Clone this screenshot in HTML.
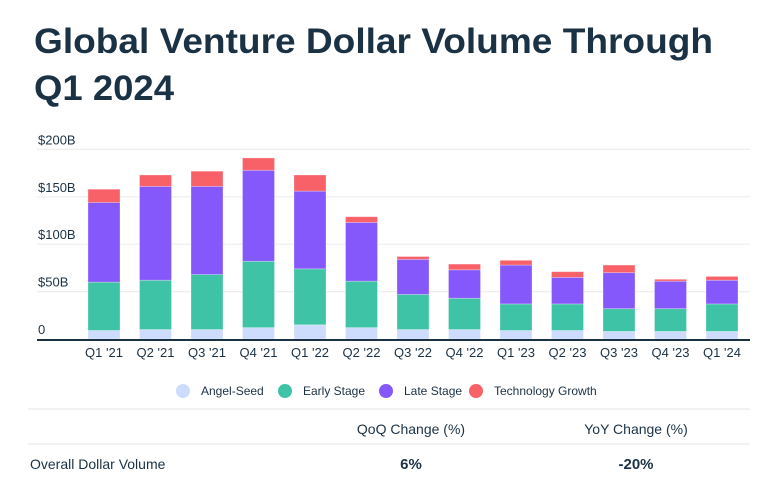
<!DOCTYPE html>
<html><head><meta charset="utf-8"><style>
html,body{margin:0;padding:0;background:#fff;}
svg{display:block;font-family:"Liberation Sans",sans-serif;}
</style></head><body>
<svg id="chart" width="762" height="479" viewBox="0 0 762 479" xmlns="http://www.w3.org/2000/svg">
<text x="34" y="53" font-size="35" font-weight="bold" fill="#1b3245" textLength="679" lengthAdjust="spacingAndGlyphs">Global Venture Dollar Volume Through</text>
<text x="34" y="100" font-size="35" font-weight="bold" fill="#1b3245" textLength="140" lengthAdjust="spacingAndGlyphs">Q1 2024</text>
<g id="grid"></g>
<g id="bars"></g>
<g id="xlabels"></g>
<g id="legend"></g>
<line x1="28" y1="409" x2="750" y2="409" stroke="#eee" stroke-width="1.5"/>
<text x="411" y="434" font-size="14" fill="#1b3245" text-anchor="middle">QoQ Change (%)</text>
<text x="636" y="434" font-size="14" fill="#1b3245" text-anchor="middle">YoY Change (%)</text>
<line x1="28" y1="444" x2="750" y2="444" stroke="#eee" stroke-width="1.5"/>
<text x="30" y="469" font-size="14" fill="#1b3245">Overall Dollar Volume</text>
<text x="411" y="469" font-size="15" font-weight="bold" fill="#1b3245" text-anchor="middle">6%</text>
<text x="636" y="469" font-size="15" font-weight="bold" fill="#1b3245" text-anchor="middle">-20%</text>
</svg>
<script>
const categories=["Q1 '21","Q2 '21","Q3 '21","Q4 '21","Q1 '22","Q2 '22","Q3 '22","Q4 '22","Q1 '23","Q2 '23","Q3 '23","Q4 '23","Q1 '24"];
const angelSeed=[9,10,10,12,15,12,10,10,9,9,8,8,8];
const earlyStage=[51,52,58,70,59,49,37,33,28,28,24,24,29];
const lateStage=[84,99,93,96,82,62,37,30,41,28,38,29,25];
const techGrowth=[14,12,16,13,17,6,3,6,5,6,8,2,4];
const yTicks=[0,50,100,150,200];
const yTickLabels=["0","$50B","$100B","$150B","$200B"];
const seriesNames=["Angel-Seed","Early Stage","Late Stage","Technology Growth"];
const NS="http://www.w3.org/2000/svg";
const colors=["#cddcfd","#3ec3a6","#8558fb","#f86168"];
const y0=339, pxPer=0.948;
function yS(v){return y0-v*pxPer;}
function xS(i){return 88+i*51.5;}
const bw=32;
function mk(tag,attrs,parent){const e=document.createElementNS(NS,tag);for(const k in attrs)e.setAttribute(k,attrs[k]);parent.appendChild(e);return e;}
const grid=document.getElementById('grid');
yTicks.forEach((t,i)=>{
  if(t>0){const l=mk('line',{x1:37,x2:750,y1:yS(t),y2:yS(t),stroke:'#eeeeee','stroke-width':1.2},grid);
  
  }
  const tx=mk('text',{x:38,y:yS(t)-5,'font-size':13,fill:'#1b3245'},grid);
  
  
  tx.textContent=yTickLabels[i];
});
const bars=document.getElementById('bars');
const series=[angelSeed,earlyStage,lateStage,techGrowth];
categories.forEach((c,i)=>{
  let cum=0;
  series.forEach((s,k)=>{
    const v=s[i];
    const r=mk('rect',{x:xS(i),y:yS(cum+v),width:bw,height:v*pxPer,fill:colors[k],stroke:'#fff','stroke-opacity':0.35,'stroke-width':0.8},bars);
    
    
    cum+=v;
  });
  const tx=mk('text',{x:xS(i)+bw/2,y:357,'font-size':13,fill:'#1b3245','text-anchor':'middle'},document.getElementById('xlabels'));
  
  
  tx.textContent=c;
});
const ax=mk('line',{x1:37,x2:750,y1:y0+1,y2:y0+1,stroke:'#1b3245','stroke-width':2},bars);


const leg=document.getElementById('legend');
const lx=[183,285,386,476];
seriesNames.forEach((n,k)=>{
  const c=mk('circle',{cx:lx[k],cy:391,r:7,fill:colors[k]},leg);
  
  
  const t=mk('text',{x:lx[k]+18,y:395,'font-size':12,fill:'#1b3245'},leg);
  
  
  t.textContent=n;
});
</script>
</body></html>
